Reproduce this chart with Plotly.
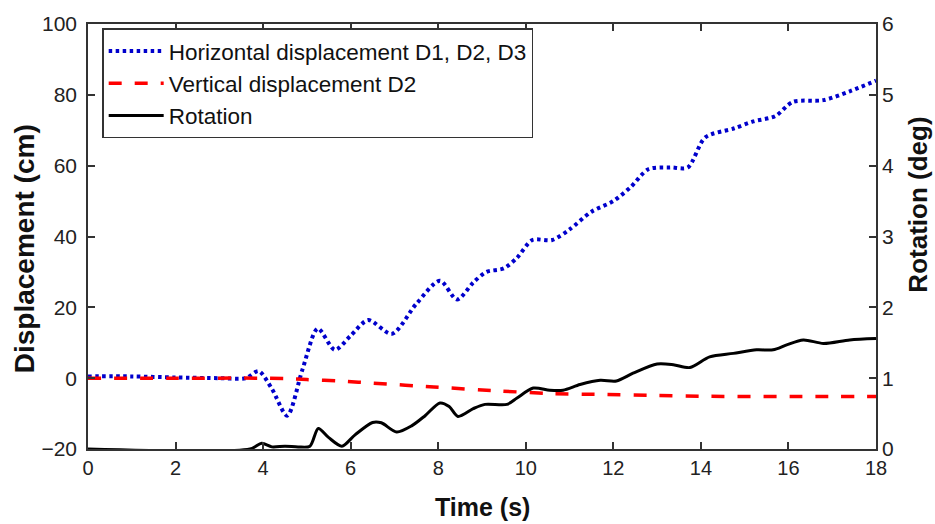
import plotly.graph_objects as go

# Horizontal displacement D1, D2, D3 (cm)
t_h = [0, 1, 2, 3, 3.6, 3.9, 4.2, 4.55, 4.9, 5.25, 5.64, 6.0, 6.4, 6.94, 7.5, 8.04, 8.43,
       8.8, 9.1, 9.5, 9.8, 10.15, 10.6, 11.0, 11.5, 12.0, 12.4, 12.8, 13.3, 13.7, 14.1,
       14.75, 15.2, 15.7, 16.1, 16.8, 17.4, 18]
disp_h = [0.5, 0.5, 0.2, 0, 0, 2, -3, -10.6, 2.5, 14, 8, 12, 16.4, 12.5, 21, 27.5, 22.2,
          27, 30, 31, 34, 39, 39, 42, 47, 50, 54, 59, 59.5, 59.5, 68,
          70.5, 72.5, 74, 78, 78.5, 81, 84]

# Vertical displacement D2 (cm)
t_v = [0, 2, 4, 4.5, 5, 5.76, 6.5, 7.9, 9.4, 10.5, 11.7, 13, 14, 16.3, 18]
disp_v = [0, 0, 0, -0.1, -0.4, -0.8, -1.4, -2.5, -3.6, -4.3, -4.6, -4.9, -5.1, -5.2, -5.2]

# Rotation (deg)
t_r = [0, 3.7, 3.97, 4.2, 4.5, 4.8, 5.07, 5.26, 5.5, 5.8, 6.1, 6.5, 6.7, 7.05, 7.4, 7.7,
       8.04, 8.25, 8.45, 8.8, 9.07, 9.57, 9.8, 10.17, 10.55, 10.85, 11.24, 11.7, 12.07,
       12.45, 13.0, 13.37, 13.75, 14.2, 14.74, 15.27, 15.65, 15.96, 16.34, 16.8, 17.4, 18]
rot = [0, 0, 0.08, 0.03, 0.04, 0.03, 0.04, 0.29, 0.16, 0.04, 0.2, 0.375, 0.37, 0.24, 0.33,
       0.47, 0.65, 0.6, 0.46, 0.57, 0.63, 0.63, 0.72, 0.86, 0.83, 0.83, 0.91, 0.97, 0.96,
       1.07, 1.2, 1.19, 1.15, 1.3, 1.35, 1.4, 1.4, 1.47, 1.54, 1.49, 1.54, 1.56]

x_ticks = [0, 2, 4, 6, 8, 10, 12, 14, 16, 18]
y_ticks = [-20, 0, 20, 40, 60, 80, 100]
y2_ticks = [0, 1, 2, 3, 4, 5, 6]

FONT = "Liberation Sans, Arial, sans-serif"
AX = "#333333"

fig = go.Figure()
fig.add_trace(go.Scatter(x=t_h, y=disp_h, mode="lines", name="Horizontal displacement D1, D2, D3",
                         line=dict(color="#0000CC", width=4, dash="3.5px,3.5px", shape="spline", smoothing=0.8)))
fig.add_trace(go.Scatter(x=t_v, y=disp_v, mode="lines", name="Vertical displacement D2",
                         line=dict(color="#FF0000", width=3.5, dash="13px,13px", shape="spline", smoothing=0.8)))
fig.add_trace(go.Scatter(x=t_r, y=rot, mode="lines", name="Rotation", yaxis="y2",
                         line=dict(color="#000000", width=3, shape="spline", smoothing=0.8)))

fig.update_layout(
    width=935, height=524,
    margin=dict(l=88, r=59, t=17, b=75),
    paper_bgcolor="white", plot_bgcolor="white",
    font=dict(family=FONT, size=20, color="#222222"),
    showlegend=True,
    legend=dict(x=0.018, y=0.99, xanchor="left", yanchor="top",
                bgcolor="white", bordercolor=AX, borderwidth=1.5,
                font=dict(size=22.5, family=FONT, color="#111111"),
                itemwidth=55, tracegroupgap=0),
    xaxis=dict(range=[0, 18], tickvals=x_ticks, ticks="inside", ticklen=7, tickwidth=1.5,
               tickcolor=AX, showline=True, linecolor=AX, linewidth=1.5, mirror="ticks",
               showgrid=False, zeroline=False, tickfont=dict(size=20)),
    yaxis=dict(range=[-20, 100], tickvals=y_ticks, ticks="inside", ticklen=7, tickwidth=1.5,
               tickcolor=AX, showline=True, linecolor=AX, linewidth=1.5, ticklabelstandoff=5,
               showgrid=False, zeroline=False, tickfont=dict(size=21)),
    yaxis2=dict(range=[0, 6], tickvals=y2_ticks, overlaying="y", side="right", ticks="inside",
                ticklen=7, tickwidth=1.5, tickcolor=AX, showline=True, linecolor=AX,
                linewidth=1.5, showgrid=False, zeroline=False, tickfont=dict(size=21)),
    annotations=[
        dict(text="<b>Time (s)</b>", xref="paper", yref="paper", x=0.5, y=-0.137,
             xanchor="center", yanchor="middle", showarrow=False, font=dict(size=25, family=FONT, color="#111111")),
        dict(text="<b>Displacement (cm)</b>", xref="paper", yref="paper", x=(24 - 88) / 788, y=0.47,
             xanchor="center", yanchor="middle", textangle=-90, showarrow=False,
             font=dict(size=28, family=FONT, color="#111111")),
        dict(text="<b>Rotation (deg)</b>", xref="paper", yref="paper", x=(918 - 88) / 788, y=0.575,
             xanchor="center", yanchor="middle", textangle=-90, showarrow=False,
             font=dict(size=26, family=FONT, color="#111111")),
    ],
)

fig.write_html("out.html")
